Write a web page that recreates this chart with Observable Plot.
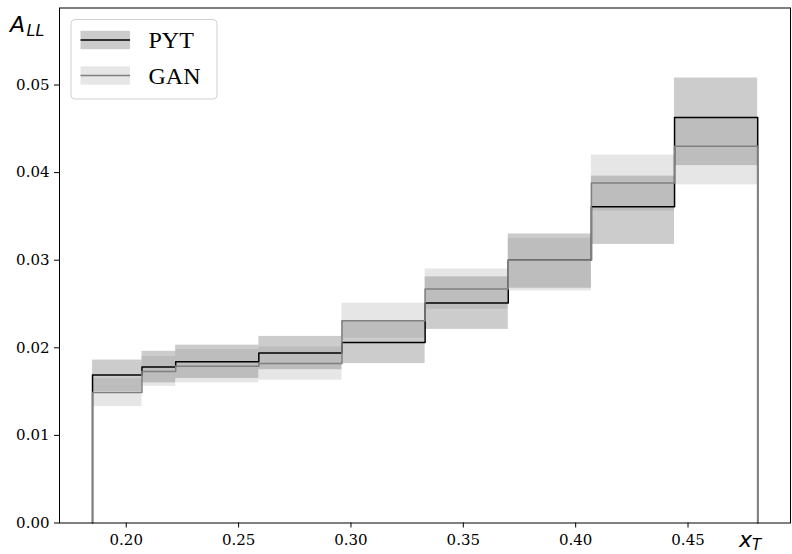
<!DOCTYPE html>
<html>
<head>
<meta charset="utf-8">
<script src="https://cdn.jsdelivr.net/npm/d3@7"></script>
<script src="https://cdn.jsdelivr.net/npm/@observablehq/plot@0.6"></script>
<style>
  html, body { margin: 0; padding: 0; background: #fff; }
  #chart { position: relative; width: 792px; height: 554px; }
</style>
</head>
<body>
<div id="chart"></div>
<script>
// bin edges in x_T
const edges = [0.185, 0.207, 0.222, 0.259, 0.296, 0.333, 0.370, 0.407, 0.444, 0.481];
// PYT values and band limits
const pyt   = [0.0169, 0.0178, 0.0184, 0.0194, 0.0206, 0.0251, 0.0300, 0.0361, 0.0463];
const pytLo = [0.0150, 0.0160, 0.0165, 0.0175, 0.0182, 0.0221, 0.0268, 0.0318, 0.0408];
const pytHi = [0.0186, 0.0196, 0.0203, 0.0213, 0.0230, 0.0281, 0.0330, 0.0396, 0.0508];
// GAN values and band limits
const gan   = [0.0149, 0.0173, 0.0179, 0.0182, 0.0231, 0.0267, 0.0300, 0.0388, 0.0430];
const ganLo = [0.0133, 0.0156, 0.0160, 0.0163, 0.0211, 0.0244, 0.0265, 0.0356, 0.0386];
const ganHi = [0.0165, 0.0190, 0.0198, 0.0201, 0.0251, 0.0290, 0.0325, 0.0420, 0.0463];
// ticks
const xTicks = [0.20, 0.25, 0.30, 0.35, 0.40, 0.45];
const yTicks = [0.00, 0.01, 0.02, 0.03, 0.04, 0.05];
const seriesNames = ["PYT", "GAN"];

function bands(lo, hi) {
  return lo.map((l, i) => ({x1: edges[i], x2: edges[i + 1], y1: l, y2: hi[i]}));
}
function stairs(vals) {
  const pts = [{x: edges[0], y: 0}];
  vals.forEach((v, i) => pts.push({x: edges[i], y: v}));
  pts.push({x: edges[edges.length - 1], y: vals[vals.length - 1]});
  pts.push({x: edges[edges.length - 1], y: 0});
  return pts;
}

const svg = Plot.plot({
  width: 792,
  height: 554,
  marginLeft: 59,
  marginRight: 2,
  marginTop: 7.5,
  marginBottom: 31.5,
  style: {fontFamily: "'DejaVu Serif', serif", fontSize: "15px", color: "#000", background: "#fff", overflow: "visible"},
  x: {domain: [0.1703, 0.4956]},
  y: {domain: [0, 0.05879]},
  marks: [
    Plot.rect(bands(pytLo, pytHi), {x1: "x1", x2: "x2", y1: "y1", y2: "y2", fill: "#000", fillOpacity: 0.2}),
    Plot.rect(bands(ganLo, ganHi), {x1: "x1", x2: "x2", y1: "y1", y2: "y2", fill: "#808080", fillOpacity: 0.2}),
    Plot.line(stairs(pyt), {x: "x", y: "y", curve: "step-after", stroke: "#000", strokeWidth: 1.5}),
    Plot.line(stairs(gan), {x: "x", y: "y", curve: "step-after", stroke: "#808080", strokeWidth: 1.5}),
    Plot.axisX({ticks: xTicks, tickFormat: d3.format(".2f"), tickSize: 5, tickPadding: 6, label: null, strokeWidth: 1}),
    Plot.axisY({ticks: yTicks, tickFormat: d3.format(".2f"), tickSize: 5, tickPadding: 5, label: null, strokeWidth: 1}),
    Plot.frame({stroke: "#000", strokeWidth: 1})
  ]
});
document.getElementById("chart").appendChild(svg);

const s = d3.select(svg);
// axis labels
const sans = "'DejaVu Sans', sans-serif";
function label(x, y, size, txt) {
  s.append("text").attr("x", x).attr("y", y).attr("font-family", sans).attr("font-style", "italic")
    .attr("font-size", size).attr("fill", "#000").attr("text-anchor", "start").text(txt);
}
label(10, 32, 22, "A");
label(26.5, 36, 16, "LL");
label(739, 547, 22, "x");
label(752, 550, 15, "T");

// legend
const lg = s.append("g");
lg.append("rect").attr("x", 71).attr("y", 19.5).attr("width", 146).attr("height", 79.5).attr("rx", 4)
  .attr("fill", "#fff").attr("fill-opacity", 0.8).attr("stroke", "#d0d0d0").attr("stroke-width", 1);
const legendItems = [
  {name: seriesNames[0], fill: "#000", stroke: "#000", y: 40},
  {name: seriesNames[1], fill: "#808080", stroke: "#808080", y: 75.5}
];
legendItems.forEach(d => {
  lg.append("rect").attr("x", 80.5).attr("y", d.y - 9.2).attr("width", 49.5).attr("height", 18.4)
    .attr("fill", d.fill).attr("fill-opacity", 0.2);
  lg.append("line").attr("x1", 80.5).attr("x2", 130).attr("y1", d.y).attr("y2", d.y)
    .attr("stroke", d.stroke).attr("stroke-width", 1.5);
  lg.append("text").attr("x", 148.5).attr("y", d.y + 8).attr("font-family", "'Liberation Serif', serif")
    .attr("text-anchor", "start").attr("font-size", 24).attr("fill", "#000").text(d.name);
});
</script>
</body>
</html>
